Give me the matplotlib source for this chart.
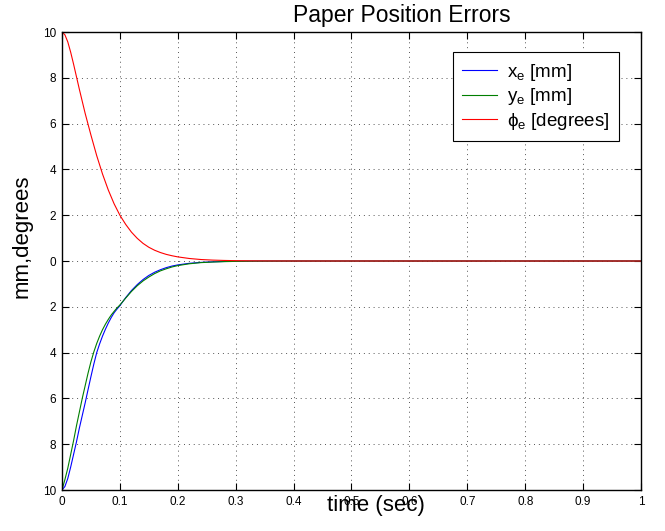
import matplotlib
matplotlib.use("Agg")
import matplotlib.pyplot as plt

plt.rcParams['font.family'] = ['Liberation Sans', 'DejaVu Sans']
plt.rcParams['mathtext.default'] = 'regular'

# sampled step response of the paper position controller
t_phi = [0, 0.005, 0.01, 0.015, 0.02, 0.025, 0.03, 0.04, 0.05, 0.06, 0.07, 0.08,
         0.09, 0.10, 0.11, 0.12, 0.13, 0.14, 0.15, 0.16, 0.17, 0.18, 0.19, 0.20,
         0.22, 0.24, 0.26, 0.28, 0.30, 0.33, 0.36, 0.40, 1.0]
phi_e = [10, 9.88, 9.57, 9.12, 8.6, 8.05, 7.5, 6.45, 5.5, 4.6, 3.8, 3.1,
         2.5, 2.0, 1.6, 1.26, 0.99, 0.77, 0.6, 0.47, 0.37, 0.29, 0.23, 0.18,
         0.11, 0.065, 0.04, 0.025, 0.015, 0.007, 0.003, 0.001, 0]

t_x = [0, 0.005, 0.01, 0.015, 0.02, 0.025, 0.03, 0.035, 0.04, 0.045, 0.05, 0.055,
       0.06, 0.065, 0.07, 0.075, 0.08, 0.085, 0.09, 0.095, 0.10, 0.11, 0.12, 0.13,
       0.14, 0.15, 0.16, 0.17, 0.18, 0.19, 0.20, 0.22, 0.24, 0.26, 0.28, 0.30,
       0.33, 0.36, 0.40, 1.0]
x_e = [-10, -9.85, -9.5, -9.0, -8.45, -7.9, -7.3, -6.75, -6.2, -5.62, -5.05, -4.5,
       -4.0, -3.62, -3.28, -2.98, -2.71, -2.47, -2.26, -2.1, -1.95, -1.6, -1.29, -1.03,
       -0.81, -0.63, -0.49, -0.38, -0.29, -0.22, -0.17, -0.1, -0.06, -0.035, -0.02, -0.012,
       -0.005, -0.002, -0.001, 0]

t_y = [0, 0.005, 0.01, 0.015, 0.02, 0.025, 0.03, 0.035, 0.04, 0.045, 0.05, 0.055,
       0.06, 0.065, 0.07, 0.075, 0.08, 0.085, 0.09, 0.095, 0.10, 0.11, 0.12, 0.13,
       0.14, 0.15, 0.16, 0.17, 0.18, 0.19, 0.20, 0.22, 0.24, 0.26, 0.28, 0.30,
       0.33, 0.36, 0.40, 1.0]
y_e = [-10, -9.55, -9.05, -8.45, -7.85, -7.2, -6.6, -6.0, -5.45, -4.9, -4.4, -3.97,
       -3.6, -3.28, -3.0, -2.76, -2.55, -2.36, -2.2, -2.05, -1.92, -1.62, -1.33, -1.08,
       -0.87, -0.7, -0.55, -0.43, -0.34, -0.26, -0.2, -0.12, -0.07, -0.045, -0.027, -0.016,
       -0.007, -0.003, -0.001, 0]

x_ticks = [0, 0.1, 0.2, 0.3, 0.4, 0.5, 0.6, 0.7, 0.8, 0.9, 1]
x_tick_labels = ['0', '0.1', '0.2', '0.3', '0.4', '0.5', '0.6', '0.7', '0.8', '0.9', '1']
y_ticks = [-10, -8, -6, -4, -2, 0, 2, 4, 6, 8, 10]
y_tick_labels = ['10', '8', '6', '4', '2', '0', '2', '4', '6', '8', '10']

fig = plt.figure(figsize=(6.65, 5.31), dpi=100)
ax = fig.add_axes([0.0932, 0.0772, 0.8707, 0.8625])

ax.plot(t_x, x_e, color='#0000ff', lw=0.8, label=r'x$_e$ [mm]')
ax.plot(t_y, y_e, color='#007f00', lw=0.8, label=r'y$_e$ [mm]')
ax.plot(t_phi, phi_e, color='#ff0000', lw=0.8, label=r'$\phi_e$ [degrees]')

ax.set_xlim(0, 1)
ax.set_ylim(-10, 10)
ax.set_xticks(x_ticks)
ax.set_xticklabels(x_tick_labels)
ax.set_yticks(y_ticks)
ax.set_yticklabels(y_tick_labels)
ax.tick_params(direction='in', length=5, width=0.8, labelsize=8.5,
               top=True, right=True, pad=4)
ax.grid(True, color='#555555', linestyle=(0, (1, 4)), linewidth=0.7)
for s in ax.spines.values():
    s.set_linewidth(1.0)

ax.set_title('Paper Position Errors', fontsize=16.5, pad=7, x=0.587)
ax.set_xlabel('time (sec)', fontsize=16)
ax.xaxis.set_label_coords(0.542, -0.01)
ax.xaxis.label.set_va('top')
ax.set_ylabel('mm,degrees', fontsize=16)
ax.yaxis.set_label_coords(-0.05, 0.555)

leg = ax.legend(loc='upper right', bbox_to_anchor=(0.962, 0.956), borderaxespad=0,
                fontsize=13.5, fancybox=False, framealpha=1, edgecolor='black',
                handlelength=1.85, handletextpad=0.55, borderpad=0.5,
                labelspacing=0.2)
leg.get_frame().set_linewidth(0.8)

fig.savefig('out.png', dpi=100)
